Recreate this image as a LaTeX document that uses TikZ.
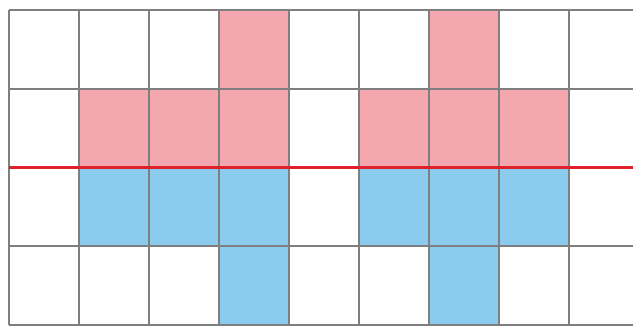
\documentclass[tikz,border=0pt]{standalone}
\definecolor{cellpink}{HTML}{F4A7AE}
\definecolor{cellblue}{HTML}{8ACBEE}
\definecolor{gridgray}{HTML}{7F7F7F}
\definecolor{axisred}{HTML}{E0202A}
\tikzset{
  pinkcell/.style={fill=cellpink, draw=none},
  bluecell/.style={fill=cellblue, draw=none},
  gridline/.style={draw=gridgray, line width=1.6pt},
  redline/.style={draw=axisred, line width=2.2pt}
}
\begin{document}
\begin{tikzpicture}[x=0.75pt,y=-0.75pt]
\useasboundingbox (0,0) rectangle (633,327);
\begin{scope}
\clip (0,0) rectangle (633,327);
% pink cells
\foreach \c/\r in {3/0,6/0,1/1,2/1,3/1,5/1,6/1,7/1}
  \path[pinkcell] ({9+70*\c},{10+78.75*\r}) rectangle ({9+70*(\c+1)},{10+78.75*(\r+1)});
% blue cells
\foreach \c/\r in {1/2,2/2,3/2,5/2,6/2,7/2,3/3,6/3}
  \path[bluecell] ({9+70*\c},{10+78.75*\r}) rectangle ({9+70*(\c+1)},{10+78.75*(\r+1)});
% grid
\foreach \c in {0,...,8}
  \draw[gridline] ({9+70*\c},10) -- ({9+70*\c},325);
\foreach \r in {0,1,3,4}
  \draw[gridline] (9,{10+78.75*\r}) -- (640,{10+78.75*\r});
% red axis
\coordinate (rl) at (9,167.5);
\coordinate (rr) at (640,167.5);
\draw[redline] (rl) -- (rr);
\end{scope}
\end{tikzpicture}
\end{document}
